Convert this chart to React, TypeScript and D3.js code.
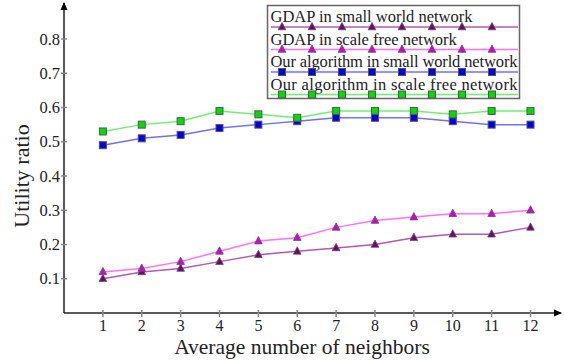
import React, { useEffect, useRef } from 'react';
import * as d3 from 'd3';

const neighbors = [1, 2, 3, 4, 5, 6, 7, 8, 9, 10, 11, 12];
const yTicks = [0.1, 0.2, 0.3, 0.4, 0.5, 0.6, 0.7, 0.8];

const gdapSmall = [0.10, 0.12, 0.13, 0.15, 0.17, 0.18, 0.19, 0.20, 0.22, 0.23, 0.23, 0.25];
const gdapScale = [0.12, 0.13, 0.15, 0.18, 0.21, 0.22, 0.25, 0.27, 0.28, 0.29, 0.29, 0.30];
const oursSmall = [0.49, 0.51, 0.52, 0.54, 0.55, 0.56, 0.57, 0.57, 0.57, 0.56, 0.55, 0.55];
const oursScale = [0.53, 0.55, 0.56, 0.59, 0.58, 0.57, 0.59, 0.59, 0.59, 0.58, 0.59, 0.59];

const seriesNames = [
  'GDAP in small world network',
  'GDAP in scale free network',
  'Our algorithm in small world network',
  'Our algorithm in scale free network',
];

const FONT = '"Liberation Serif", "Times New Roman", serif';

const App = () => {
  const svgRef = useRef<SVGSVGElement>(null);

  useEffect(() => {
    const svg = d3.select(svgRef.current);
    svg.selectAll('*').remove();

    const x0 = 64;
    const y0 = 313;

    const x = d3.scaleLinear().domain([0, 12]).range([x0, 530.5]);
    const y = d3.scaleLinear().domain([0, 0.8]).range([y0, 39]);

    const series = [
      { name: seriesNames[0], values: gdapSmall, line: '#b05ab0', fill: '#7a007a', shape: 'tri' },
      { name: seriesNames[1], values: gdapScale, line: '#ff70ff', fill: '#d800d8', shape: 'tri' },
      { name: seriesNames[2], values: oursSmall, line: '#7070ff', fill: '#0000ee', shape: 'sq' },
      { name: seriesNames[3], values: oursScale, line: '#70f070', fill: '#00dd00', shape: 'sq' },
    ];

    svg.append('defs').append('marker')
      .attr('id', 'arrow')
      .attr('viewBox', '0 -4 8 8')
      .attr('refX', 7)
      .attr('refY', 0)
      .attr('orient', 'auto')
      .attr('markerWidth', 8)
      .attr('markerHeight', 8)
      .attr('markerUnits', 'userSpaceOnUse')
      .append('path')
      .attr('d', 'M0,-3.5L8,0L0,3.5Z')
      .attr('fill', '#000');

    // axes
    svg.append('line')
      .attr('x1', x0).attr('y1', y0)
      .attr('x2', x0).attr('y2', 3)
      .attr('stroke', '#222').attr('stroke-width', 1.5)
      .attr('marker-end', 'url(#arrow)');
    svg.append('line')
      .attr('x1', x0).attr('y1', y0)
      .attr('x2', 561).attr('y2', y0)
      .attr('stroke', '#222').attr('stroke-width', 1.5)
      .attr('marker-end', 'url(#arrow)');

    // y ticks
    const yt = svg.append('g');
    yt.selectAll('line').data(yTicks).enter().append('line')
      .attr('x1', x0 - 3).attr('x2', x0 + 3)
      .attr('y1', d => y(d)).attr('y2', d => y(d))
      .attr('stroke', '#888').attr('stroke-width', 1.5);
    yt.selectAll('text').data(yTicks).enter().append('text')
      .attr('x', x0 - 4).attr('y', d => y(d) + 5.5)
      .attr('text-anchor', 'end')
      .attr('font-family', FONT).attr('font-size', 16.5).attr('fill', '#222')
      .text(d => d.toFixed(1));

    // x ticks
    const xt = svg.append('g');
    xt.selectAll('line').data(neighbors).enter().append('line')
      .attr('x1', d => x(d)).attr('x2', d => x(d))
      .attr('y1', y0 - 3).attr('y2', y0 + 4)
      .attr('stroke', '#888').attr('stroke-width', 1.5);
    xt.selectAll('text').data(neighbors).enter().append('text')
      .attr('x', d => x(d)).attr('y', 331)
      .attr('text-anchor', 'middle')
      .attr('font-family', FONT).attr('font-size', 16).attr('fill', '#222')
      .text(d => d);

    svg.append('text')
      .attr('x', 302).attr('y', 354)
      .attr('text-anchor', 'middle')
      .attr('font-family', FONT).attr('font-size', 21.5).attr('fill', '#222')
      .text('Average number of neighbors');
    svg.append('text')
      .attr('transform', `translate(29,${176}) rotate(-90)`)
      .attr('text-anchor', 'middle')
      .attr('font-family', FONT).attr('font-size', 22).attr('fill', '#222')
      .text('Utility ratio');

    const drawMarker = (g: any, cx: number, cy: number, s: any) => {
      if (s.shape === 'sq') {
        g.append('rect')
          .attr('x', cx - 3.5).attr('y', cy - 3.5)
          .attr('width', 7).attr('height', 7)
          .attr('fill', s.fill).attr('stroke', '#555').attr('stroke-width', 1);
      } else {
        g.append('path')
          .attr('d', `M${cx},${cy - 4.5}L${cx + 3.8},${cy + 2.8}L${cx - 3.8},${cy + 2.8}Z`)
          .attr('fill', s.fill).attr('stroke', '#555').attr('stroke-width', 0.8);
      }
    };

    const line = d3.line<number>()
      .x((d, i) => x(neighbors[i]))
      .y(d => y(d));

    series.forEach(s => {
      const g = svg.append('g');
      g.append('path')
        .datum(s.values)
        .attr('d', line)
        .attr('fill', 'none')
        .attr('stroke', s.line)
        .attr('stroke-width', 1.5);
      s.values.forEach((v, i) => drawMarker(g, x(neighbors[i]), y(v), s));
    });

    // legend
    const lg = svg.append('g');
    lg.append('rect')
      .attr('x', 267.5).attr('y', 5.5)
      .attr('width', 252).attr('height', 93)
      .attr('fill', '#fff').attr('stroke', '#666').attr('stroke-width', 1.5);
    series.forEach((s, i) => {
      const ly = 27 + i * 22.5;
      lg.append('text')
        .attr('x', 270.5).attr('y', ly - 5)
        .attr('font-family', FONT).attr('font-size', 16.5).attr('fill', '#222')
        .attr('textLength', s.name.length > 30 ? 247 : null)
        .text(s.name);
      lg.append('line')
        .attr('x1', 271).attr('x2', 518)
        .attr('y1', ly).attr('y2', ly)
        .attr('stroke', s.line).attr('stroke-width', 1.5);
      d3.range(8).forEach(k => drawMarker(lg, 282 + k * 30, ly, s));
    });
  }, []);

  return (
    <svg ref={svgRef} width={564} height={360}
      style={{ position: 'absolute', left: 0, top: 0, background: '#fff' }} />
  );
};

export default App;
